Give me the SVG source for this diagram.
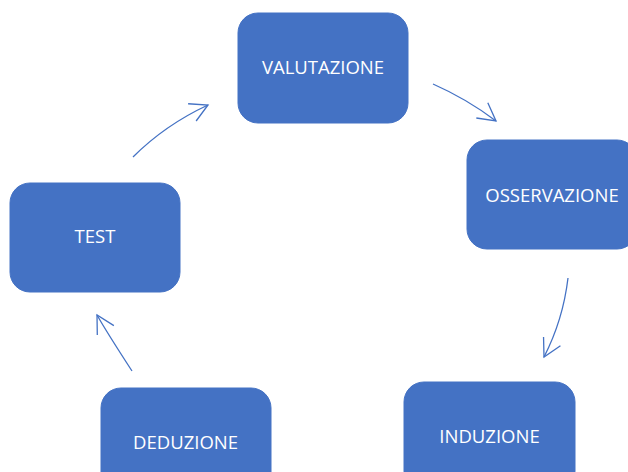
<svg xmlns="http://www.w3.org/2000/svg" width="628" height="472" viewBox="0 0 628 472">
<style>
.box{fill:#4472C4;stroke:#4472C4;stroke-width:1}
.lbl{font-family:"Open Sans","Liberation Sans",sans-serif;font-size:18.5px;fill:#FFFFFF;text-anchor:middle}
.arr{fill:none;stroke:#4472C4;stroke-width:1.3}
</style>
<defs>
<marker id="ah" markerUnits="userSpaceOnUse" markerWidth="24" markerHeight="24" viewBox="-20 -12 24 24" refX="0" refY="0" orient="auto">
<path d="M-17.5,-9.5 L0,0 L-17.5,9.5" fill="none" stroke="#4472C4" stroke-width="1.3"/>
</marker>
</defs>
<rect width="628" height="472" fill="#FFFFFF"/>
<g id="valutazione"><rect class="box" x="238" y="13" width="170" height="110" rx="20"/><text class="lbl" x="323" y="74">VALUTAZIONE</text></g>
<g id="osservazione"><rect class="box" x="467" y="140" width="170" height="109" rx="20"/><text class="lbl" x="552" y="201.5">OSSERVAZIONE</text></g>
<g id="test"><rect class="box" x="10" y="183" width="170" height="109" rx="20"/><text class="lbl" x="95" y="243">TEST</text></g>
<g id="deduzione"><rect class="box" x="101" y="388" width="170" height="109" rx="20"/><text class="lbl" x="185.5" y="449">DEDUZIONE</text></g>
<g id="induzione"><rect class="box" x="404" y="382" width="171" height="109" rx="20"/><text class="lbl" x="489.5" y="443">INDUZIONE</text></g>
<g id="connectors">
<path class="arr" d="M433,84 Q467,99 496,121" marker-end="url(#ah)"/>
<path class="arr" d="M568,278 Q563,320 544,357" marker-end="url(#ah)"/>
<path class="arr" d="M132,371 Q106,331 97,315" marker-end="url(#ah)"/>
<path class="arr" d="M133,157 Q165,125 208,105" marker-end="url(#ah)"/>
</g>
</svg>
